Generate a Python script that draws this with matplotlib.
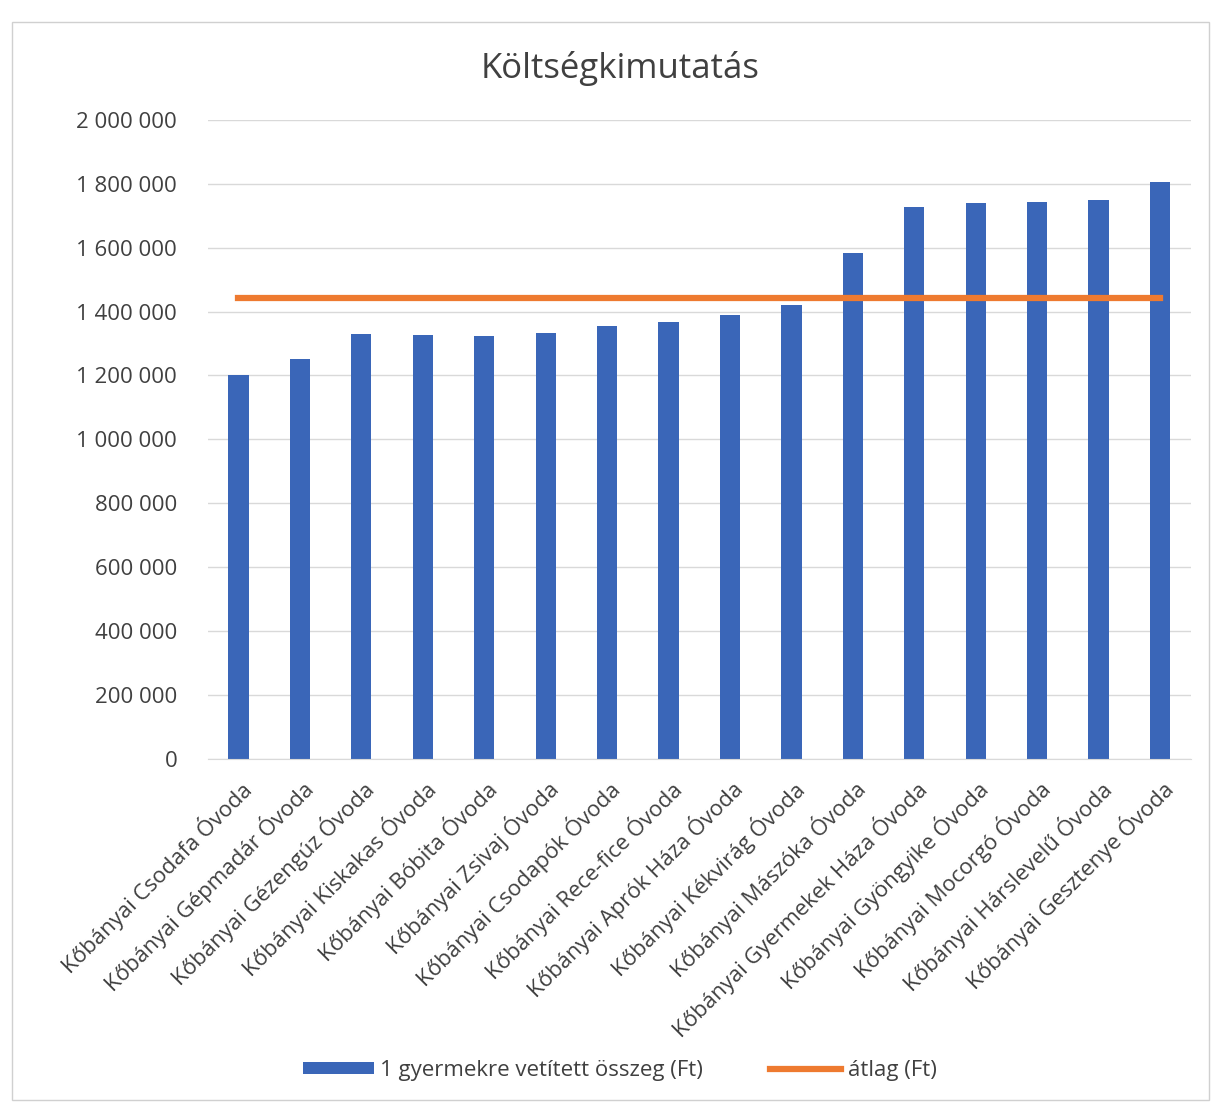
import matplotlib.pyplot as plt
from matplotlib.ticker import FuncFormatter
from matplotlib.patches import Rectangle

plt.rcParams['font.family'] = ['Open Sans', 'DejaVu Sans']

# data
ovodak = [
    "Kőbányai Csodafa Óvoda", "Kőbányai Gépmadár Óvoda", "Kőbányai Gézengúz Óvoda",
    "Kőbányai Kiskakas Óvoda", "Kőbányai Bóbita Óvoda", "Kőbányai Zsivaj Óvoda",
    "Kőbányai Csodapók Óvoda", "Kőbányai Rece-fice Óvoda", "Kőbányai Aprók Háza Óvoda",
    "Kőbányai Kékvirág Óvoda", "Kőbányai Mászóka Óvoda", "Kőbányai Gyermekek Háza Óvoda",
    "Kőbányai Gyöngyike Óvoda", "Kőbányai Mocorgó Óvoda", "Kőbányai Hárslevelű Óvoda",
    "Kőbányai Gesztenye Óvoda",
]
osszeg = [1200000, 1251000, 1330000, 1328000, 1325000, 1334000, 1355000, 1367000,
          1388000, 1421000, 1584000, 1726000, 1739000, 1743000, 1747000, 1805000]
atlag = [1442000] * len(ovodak)

text_col = '#404040'
fig = plt.figure(figsize=(12.15, 11.07), dpi=100)
ax = fig.add_axes([0.171, 0.314, 0.809, 0.578])

x = range(len(ovodak))
bars = ax.bar(x, osszeg, width=0.33, color='#3A66B8', label='1 gyermekre vetített összeg (Ft)', zorder=2)
line, = ax.plot(x, atlag, color='#EE7A30', linewidth=4.5, label='átlag (Ft)', zorder=3)

ax.set_ylim(0, 2000000)
ax.set_yticks(range(0, 2000001, 200000))
ax.yaxis.set_major_formatter(FuncFormatter(lambda v, p: f'{int(v):,}'.replace(',', ' ')))
ax.set_xlim(-0.5, len(ovodak) - 0.5)
ax.set_xticks(list(x))
ax.set_xticklabels(ovodak, rotation=45, ha='right', rotation_mode='anchor')
ax.tick_params(axis='both', length=0, labelsize=16, colors=text_col)
ax.tick_params(axis='y', pad=22)
ax.tick_params(axis='x', pad=12)
ax.grid(axis='y', color='#D9D9D9', linewidth=1, zorder=0)
for s in ['top', 'right', 'left']:
    ax.spines[s].set_visible(False)
ax.spines['bottom'].set_color('#D9D9D9')

fig.text(0.51, 0.938, 'Költségkimutatás', ha='center', va='center', fontsize=25, color=text_col)

fig.legend([bars, line], ['1 gyermekre vetített összeg (Ft)', 'átlag (Ft)'],
           loc='center', bbox_to_anchor=(0.51, 0.033), ncol=2, frameon=False,
           fontsize=16, labelcolor=text_col, handlelength=3.2, handleheight=0.5,
           columnspacing=3.0, handletextpad=0.3)

fig.patches.append(Rectangle((0.01, 0.006), 0.985, 0.974, transform=fig.transFigure,
                             fill=False, edgecolor='#D0D0D0', linewidth=1))

fig.savefig('out.png', dpi=100)
